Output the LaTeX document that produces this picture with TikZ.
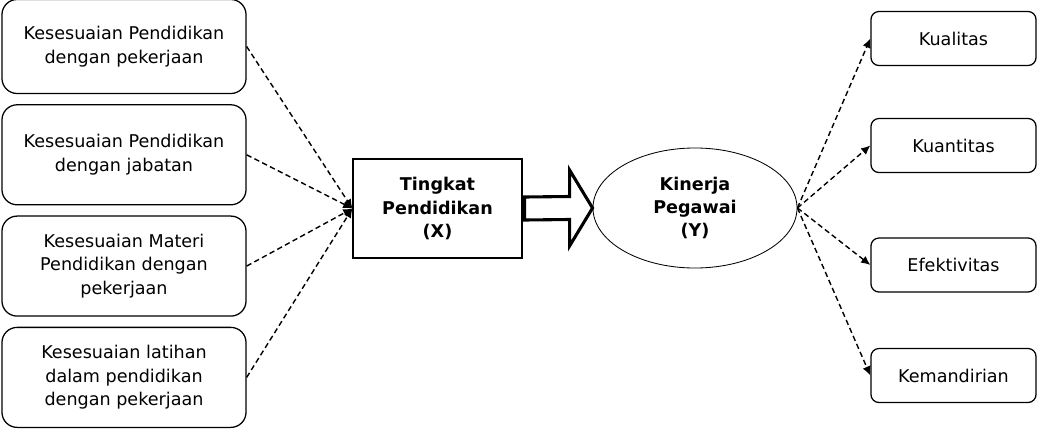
\documentclass[tikz,border=0pt]{standalone}
\usepackage{fontspec}
\setmainfont{DejaVu Sans}
\usetikzlibrary{arrows.meta, positioning, calc, shapes.geometric}

\begin{document}
\begin{tikzpicture}[
    x=0.025cm, y=-0.025cm,
    font=\fontsize{12.5}{16.6}\selectfont,
    indik/.style={draw, line width=0.9pt, rounded corners=0.38cm, minimum width=6.1cm, minimum height=2.5cm, align=center, inner sep=2pt},
    hasil/.style={draw, line width=0.9pt, rounded corners=0.2cm, minimum width=4.125cm, minimum height=1.35cm, align=center},
    varx/.style={draw, line width=0.8pt, minimum width=4.225cm, minimum height=2.475cm, align=center, font=\fontsize{12.5}{16.6}\selectfont\bfseries},
    vary/.style={draw, ellipse, line width=0.6pt, minimum width=5.1cm, minimum height=3.0cm, inner sep=0pt, align=center, font=\fontsize{12.5}{16.6}\selectfont\bfseries},
    darr/.style={-{Latex[length=2.3mm, width=2.1mm]}, line width=1pt, dash pattern=on 3.8pt off 2.4pt},
    blockarr/.style={line width=2.2pt, line join=miter, fill=white},
]
\useasboundingbox (0,0) rectangle (1042,442);

% --- Indikator pendidikan (left) ---
\node[indik, minimum height=2.35cm] (ind1) at (124,46.5) {Kesesuaian Pendidikan\\dengan pekerjaan};
\node[indik, below=0.25cm of ind1] (ind2) {Kesesuaian Pendidikan\\dengan jabatan};
\node[indik, below=0.25cm of ind2] (ind3) {Kesesuaian Materi\\Pendidikan dengan\\pekerjaan};
\node[indik, below=0.25cm of ind3] (ind4) {Kesesuaian latihan\\dalam pendidikan\\dengan pekerjaan};

% --- Variabel X dan Y ---
\node[varx] (tingkat) at (437.5,208.5) {Tingkat\\Pendidikan\\(X)};
\node[vary] (kinerja) at (695,208) {Kinerja\\Pegawai\\(Y)};

% --- Indikator kinerja (right) ---
\node[hasil] (kual) at (953.5,38.5) {Kualitas};
\node[hasil] (kuan) at (953.5,145.5) {Kuantitas};
\node[hasil] (efek) at (953.5,265) {Efektivitas};
\node[hasil] (mand) at (953.5,375.5) {Kemandirian};

% --- Dashed links into X ---
\foreach \n in {ind1, ind2, ind3, ind4}
    \draw[darr] (\n.east) -- (tingkat.west);

% --- Block arrow X -> Y ---
\draw[blockarr] ($(tingkat.east)+(2,-11.5)$) -- ($(kinerja.west)+(-23,-11.5)$)
    -- ($(kinerja.west)+(-23,-38)$) -- (kinerja.west) -- ($(kinerja.west)+(-23,38)$)
    -- ($(kinerja.west)+(-23,11.5)$) -- ($(tingkat.east)+(2,11.5)$) -- cycle;

% --- Dashed links out of Y ---
\foreach \n in {kual, kuan, efek, mand}
    \draw[darr] (kinerja.east) -- (\n.west);

\end{tikzpicture}
\end{document}
